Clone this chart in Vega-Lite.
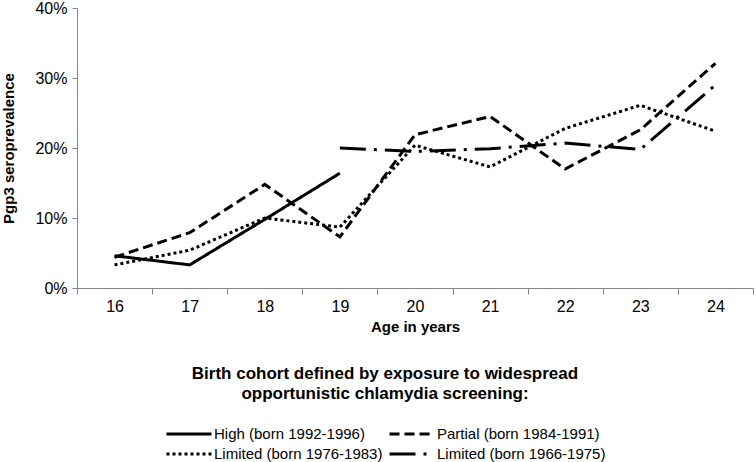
{
  "$schema": "https://vega.github.io/schema/vega-lite/v6.json",
  "autosize": "none",
  "padding": {"left": 77, "top": 8, "right": 3, "bottom": 174},
  "width": 676,
  "height": 280,
  "background": "white",
  "config": {
    "font": "Liberation Sans",
    "view": {"stroke": null},
    "axis": {"labelColor": "black", "titleColor": "black", "domainColor": "#868686", "tickColor": "#868686", "grid": false, "labelFontSize": 16, "titleFontSize": 15, "titleFontWeight": "bold", "labelFont": "Liberation Sans", "titleFont": "Liberation Sans"}
  },
  "data": {
    "values": [
      {"age": 16, "cohort": "High (born 1992-1996)", "p": 4.6},
      {"age": 17, "cohort": "High (born 1992-1996)", "p": 3.3},
      {"age": 18, "cohort": "High (born 1992-1996)", "p": 9.8},
      {"age": 19, "cohort": "High (born 1992-1996)", "p": 16.4},
      {"age": 16, "cohort": "Partial (born 1984-1991)", "p": 4.4},
      {"age": 17, "cohort": "Partial (born 1984-1991)", "p": 7.9},
      {"age": 18, "cohort": "Partial (born 1984-1991)", "p": 14.8},
      {"age": 19, "cohort": "Partial (born 1984-1991)", "p": 7.3},
      {"age": 20, "cohort": "Partial (born 1984-1991)", "p": 21.9},
      {"age": 21, "cohort": "Partial (born 1984-1991)", "p": 24.5},
      {"age": 22, "cohort": "Partial (born 1984-1991)", "p": 17.0},
      {"age": 23, "cohort": "Partial (born 1984-1991)", "p": 22.6},
      {"age": 24, "cohort": "Partial (born 1984-1991)", "p": 32.1},
      {"age": 16, "cohort": "Limited (born 1976-1983)", "p": 3.3},
      {"age": 17, "cohort": "Limited (born 1976-1983)", "p": 5.4},
      {"age": 18, "cohort": "Limited (born 1976-1983)", "p": 10.0},
      {"age": 19, "cohort": "Limited (born 1976-1983)", "p": 8.7},
      {"age": 20, "cohort": "Limited (born 1976-1983)", "p": 20.4},
      {"age": 21, "cohort": "Limited (born 1976-1983)", "p": 17.3},
      {"age": 22, "cohort": "Limited (born 1976-1983)", "p": 22.8},
      {"age": 23, "cohort": "Limited (born 1976-1983)", "p": 26.1},
      {"age": 24, "cohort": "Limited (born 1976-1983)", "p": 22.4},
      {"age": 19, "cohort": "Limited (born 1966-1975)", "p": 20.0},
      {"age": 20, "cohort": "Limited (born 1966-1975)", "p": 19.5},
      {"age": 21, "cohort": "Limited (born 1966-1975)", "p": 19.9},
      {"age": 22, "cohort": "Limited (born 1966-1975)", "p": 20.7},
      {"age": 23, "cohort": "Limited (born 1966-1975)", "p": 19.8},
      {"age": 24, "cohort": "Limited (born 1966-1975)", "p": 29.0}
    ]
  },
  "mark": {"type": "line", "color": "black", "strokeWidth": 3},
  "encoding": {
    "x": {
      "field": "age", "type": "ordinal", "sort": null,
      "scale": {"paddingInner": 0, "paddingOuter": 0},
      "axis": {"title": "Age in years", "labelAngle": 0, "tickBand": "extent", "tickSize": 6, "labelPadding": 4, "titlePadding": 5}
    },
    "y": {
      "field": "p", "type": "quantitative",
      "scale": {"domain": [0, 40]},
      "axis": {"title": "Pgp3 seroprevalence", "values": [0, 10, 20, 30, 40], "labelExpr": "datum.value + '%'", "tickSize": 5, "labelPadding": 5, "titlePadding": 18}
    },
    "strokeDash": {
      "field": "cohort", "type": "nominal",
      "scale": {
        "domain": ["High (born 1992-1996)", "Partial (born 1984-1991)", "Limited (born 1976-1983)", "Limited (born 1966-1975)"],
        "range": [[1, 0], [10, 5], [3, 3], [26, 8, 3, 8]]
      },
      "legend": {
        "orient": "none",
        "legendX": 88,
        "legendY": 358,
        "direction": "horizontal",
        "columns": 2,
        "title": ["Birth cohort defined by exposure to widespread", "opportunistic chlamydia screening:"],
        "titleFontSize": 17,
        "titleFontWeight": "bold",
        "titleColor": "black",
        "titleAlign": "center",
        "titleAnchor": "middle",
        "titleLineHeight": 20,
        "titlePadding": 22,
        "titleLimit": 0,
        "labelLimit": 0,
        "labelFontSize": 15,
        "labelColor": "black",
        "symbolType": "M-1,0H5",
        "symbolStrokeColor": "black",
        "symbolFillColor": "transparent",
        "symbolStrokeWidth": 3,
        "symbolSize": 225,
        "columnPadding": 0,
        "rowPadding": 3,
        "labelOffset": 31
      }
    }
  }
}
